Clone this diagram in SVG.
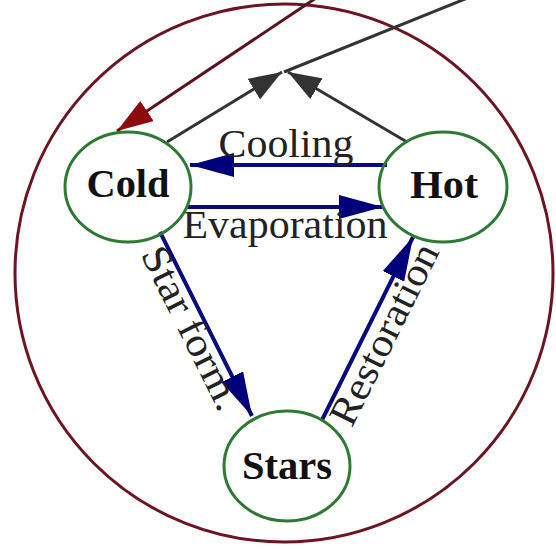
<svg xmlns="http://www.w3.org/2000/svg" width="556" height="549" viewBox="0 0 556 549">
<style>
.node{fill:none;stroke:#2e7a32;stroke-width:3}
.nlab{font-family:"Liberation Serif","Times New Roman",serif;font-weight:bold;font-size:40px;fill:#111;text-anchor:middle}
.elab{font-family:"Liberation Serif","Times New Roman",serif;font-size:40px;fill:#222;text-anchor:middle}
.blue{stroke:#0a0a80;stroke-width:4;fill:none}
.gray{stroke:#333;stroke-width:3;fill:none}
.red{stroke:#5e1220;stroke-width:3;fill:none}
</style>
<defs>
<marker id="ab" markerWidth="11" markerHeight="6" refX="11" refY="3" orient="auto" markerUnits="strokeWidth"><path d="M0,0 L11,3 L0,6 z" fill="#00007a"/></marker>
<marker id="ag" markerWidth="11" markerHeight="8" refX="11" refY="4" orient="auto" markerUnits="strokeWidth"><path d="M0,0 L11,4 L0,8 z" fill="#333"/></marker>
<marker id="ar" markerWidth="12" markerHeight="8" refX="12" refY="4" orient="auto" markerUnits="strokeWidth"><path d="M0,0 L12,4 L0,8 z" fill="#8e0a0a"/></marker>
</defs>
<rect width="556" height="549" fill="#fff"/>
<g id="cluster">
<circle cx="284" cy="273" r="269" fill="none" stroke="#6e1424" stroke-width="3"/>
</g>
<g id="connectors">
<line class="red" x1="325" y1="-8" x2="117" y2="131" marker-end="url(#ar)"/>
<line class="gray" x1="284" y1="72" x2="475" y2="-5"/>
<line class="gray" x1="167" y1="142" x2="282" y2="72" marker-end="url(#ag)"/>
<line class="gray" x1="407" y1="142" x2="288" y2="72" marker-end="url(#ag)"/>
<line class="blue" x1="387" y1="165" x2="190" y2="165" marker-end="url(#ab)"/>
<line class="blue" x1="187" y1="207" x2="383" y2="207" marker-end="url(#ab)"/>
<line class="blue" x1="160" y1="232" x2="252" y2="416" marker-end="url(#ab)"/>
<line class="blue" x1="322" y1="420" x2="413" y2="237" marker-end="url(#ab)"/>
<text class="elab" x="286" y="157" textLength="135" lengthAdjust="spacingAndGlyphs">Cooling</text>
<text class="elab" x="285" y="238" textLength="205" lengthAdjust="spacingAndGlyphs">Evaporation</text>
<text class="elab" transform="translate(180,334) rotate(63.5)" x="0" y="0" textLength="178" lengthAdjust="spacingAndGlyphs">Star form.</text>
<text class="elab" transform="translate(396,340) rotate(-63.5)" x="0" y="0" textLength="198" lengthAdjust="spacingAndGlyphs">Restoration</text>
</g>
<g id="cold">
<ellipse class="node" cx="128" cy="187" rx="63" ry="55"/>
<text class="nlab" x="128" y="197" textLength="83" lengthAdjust="spacingAndGlyphs">Cold</text>
</g>
<g id="hot">
<ellipse class="node" cx="443" cy="187" rx="64" ry="55"/>
<text class="nlab" x="444" y="198" textLength="68" lengthAdjust="spacingAndGlyphs">Hot</text>
</g>
<g id="stars">
<ellipse class="node" cx="287" cy="466" rx="63" ry="55"/>
<text class="nlab" x="287" y="479" textLength="90" lengthAdjust="spacingAndGlyphs">Stars</text>
</g>
</svg>
